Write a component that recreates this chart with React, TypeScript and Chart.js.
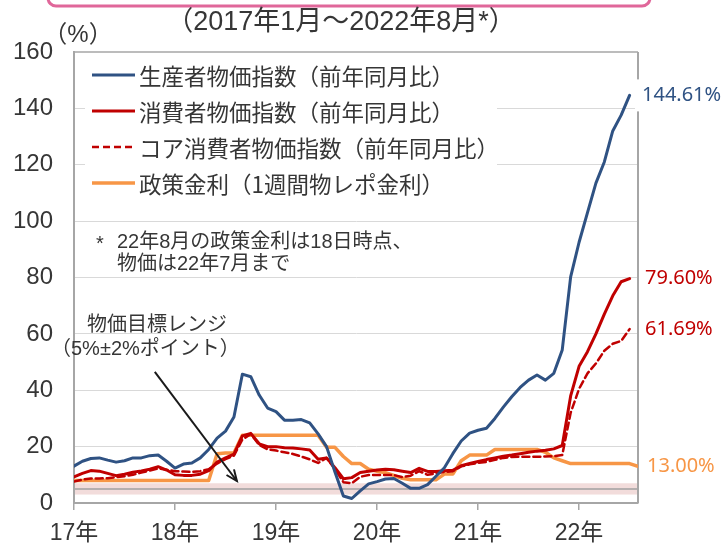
import React, { useEffect, useRef } from "react";
import { Chart, registerables } from "chart.js";
Chart.register(...registerables);

// ---- data (monthly, Jan 2017 = index 0) ----
const yearLabels = ["17年", "18年", "19年", "20年", "21年", "22年"];
const monthCount = 68; // Jan 2017 .. Aug 2022

const ppi = [
  13.1, 14.8, 15.8, 16.0, 15.2, 14.5, 15.0, 16.0, 16.0, 16.8, 17.0, 14.8,
  12.4, 13.8, 14.2, 16.0, 19.0, 23.0, 25.5, 30.5, 45.7, 44.8, 38.3, 33.7,
  32.4, 29.4, 29.4, 29.6, 28.4, 24.5, 20.0, 11.0, 2.5, 1.6, 4.3, 6.8,
  7.6, 8.5, 8.7, 7.0, 5.2, 5.2, 6.5, 9.5, 12.5, 17.5, 22.0, 24.8,
  25.8, 26.5, 30.0, 34.0, 37.7, 41.0, 43.6, 45.4, 43.6, 46.0, 54.3, 80.2,
  92.5, 103.0, 113.5, 121.0, 132.0, 137.6, 144.61,
];
const cpi = [
  9.3, 10.5, 11.5, 11.3, 10.5, 9.7, 10.2, 10.9, 11.4, 12.0, 12.9, 11.7,
  10.0, 9.8, 9.8, 10.2, 11.5, 14.5, 16.0, 17.3, 23.8, 24.7, 21.0, 20.0,
  20.0, 19.6, 19.5, 19.2, 18.8, 15.5, 16.0, 12.5, 8.6, 9.0, 10.8, 11.3,
  11.7, 12.0, 11.8, 11.3, 10.8, 12.3, 11.2, 11.2, 11.4, 11.6, 13.2, 14.0,
  14.7, 15.4, 16.0, 16.6, 17.0, 17.5, 18.0, 18.4, 18.7, 19.2, 20.4, 38.0,
  48.5, 53.7, 60.0, 67.0, 73.5, 78.5, 79.6,
];
const coreCpi = [
  7.6, 8.3, 8.7, 8.7, 8.8, 9.2, 9.5, 10.0, 10.8, 11.5, 12.3, 11.8,
  11.3, 11.2, 11.0, 11.3, 12.0, 14.0, 15.6, 16.8, 22.5, 24.5, 20.6, 19.0,
  18.6, 18.0, 17.4, 16.5, 15.5, 14.2, 16.0, 12.0, 7.4, 7.0, 9.3, 9.9,
  9.9, 9.9, 9.9, 9.2, 9.7, 11.3, 10.0, 10.5, 11.0, 11.3, 13.0, 13.7,
  14.2, 14.6, 15.3, 16.0, 16.3, 16.4, 16.4, 16.4, 16.5, 16.6, 17.0, 32.0,
  40.5, 46.0, 49.5, 54.0, 56.5, 57.5, 61.69,
];
const policyRate = [
  8, 8, 8, 8, 8, 8, 8, 8, 8, 8, 8, 8,
  8, 8, 8, 8, 8, 17.5, 17.75, 17.75, 24, 24, 24, 24,
  24, 24, 24, 24, 24, 24, 19.75, 19.75, 16.5, 14, 14, 12,
  11.25, 10.75, 9.75, 8.75, 8.25, 8.25, 8.25, 8.25, 10.25, 10.25, 15, 17,
  17, 17, 19, 19, 19, 19, 19, 19, 18, 16, 15, 14,
  14, 14, 14, 14, 14, 14, 14, 13,
];

const seriesNames = [
  "生産者物価指数（前年同月比）",
  "消費者物価指数（前年同月比）",
  "コア消費者物価指数（前年同月比）",
  "政策金利（1週間物レポ金利）",
];
const endLabels = ["144.61%", "79.60%", "61.69%", "13.00%"];
const targetLow = 3;
const targetMid = 5;
const targetHigh = 7;

const titleText = "（2017年1月～2022年8月*）";
const unitText = "（%）";
const noteLines = ["22年8月の政策金利は18日時点、", "物価は22年7月まで"];
const rangeLines = ["物価目標レンジ", "（5%±2%ポイント）"];

// ---- styles ----
const BLUE = "#2f5283";
const RED = "#c00000";
const ORANGE = "#f79646";
const TEXT = "#363636";
const AXIS = "#a6a6a6";
const CJK = '"Noto Sans CJK JP", sans-serif';
const NUM = '"Liberation Sans", "Noto Sans CJK JP", sans-serif';
const END = '"Noto Sans", "Liberation Sans", sans-serif';

const toPoints = (arr: number[]) => arr.map((v, i) => ({ x: i, y: v }));

const decor = {
  id: "decor",
  beforeDatasetsDraw(chart: any) {
    const { ctx, chartArea: a, scales } = chart;
    const y = scales.y;
    ctx.save();
    // target band
    const yt = y.getPixelForValue(targetHigh);
    const yb = y.getPixelForValue(targetLow);
    ctx.fillStyle = "#f2dcdb";
    ctx.fillRect(a.left + 1, yt, a.right - a.left - 1, yb - yt);
    ctx.strokeStyle = "#a0a0a0";
    ctx.lineWidth = 1.5;
    const ym = y.getPixelForValue(targetMid);
    ctx.beginPath();
    ctx.moveTo(a.left + 1, ym);
    ctx.lineTo(a.right, ym);
    ctx.stroke();
    // top & right frame
    ctx.strokeStyle = AXIS;
    ctx.lineWidth = 1.5;
    ctx.beginPath();
    ctx.moveTo(a.left, a.top);
    ctx.lineTo(a.right, a.top);
    ctx.stroke();
    ctx.lineWidth = 2;
    ctx.beginPath();
    ctx.moveTo(a.right, a.top);
    ctx.lineTo(a.right, a.bottom);
    ctx.stroke();
    // legend background
    ctx.fillStyle = "#ffffff";
    ctx.fillRect(85, a.top + 1, 412, 148);
    // white background behind first end label
    const ds0 = chart.data.datasets[0].data;
    const yl = y.getPixelForValue(ds0[ds0.length - 1].y);
    ctx.fillRect(a.right - 3, yl - 16, 100, 32);
    ctx.restore();
  },
  afterDraw(chart: any) {
    const { ctx, chartArea: a, scales } = chart;
    const x = scales.x;
    const y = scales.y;
    ctx.save();
    // pink header frame
    ctx.strokeStyle = "#e0679a";
    ctx.lineWidth = 3;
    ctx.beginPath();
    ctx.roundRect(48, -30, 602, 36, 8);
    ctx.stroke();

    ctx.fillStyle = TEXT;
    ctx.textBaseline = "middle";
    // title
    ctx.textAlign = "center";
    ctx.font = `27px ${NUM}`;
    ctx.fillText(titleText, 341, 23);
    ctx.font = `24px ${NUM}`;
    ctx.fillText(unitText, 78, 35);

    // legend
    const ds = chart.data.datasets;
    ctx.textAlign = "left";
    ctx.font = `22.5px ${CJK}`;
    ds.forEach((d: any, i: number) => {
      const ly = 75 + i * 36;
      ctx.save();
      ctx.strokeStyle = d.borderColor;
      ctx.lineWidth = d.borderWidth;
      ctx.setLineDash(d.borderDash || []);
      ctx.beginPath();
      ctx.moveTo(92, ly);
      ctx.lineTo(135, ly);
      ctx.stroke();
      ctx.restore();
      ctx.fillStyle = TEXT;
      ctx.fillText(d.label, 139, ly + 1);
    });

    // note
    ctx.font = `20px ${NUM}`;
    ctx.fillText("*", 96, 244);
    ctx.fillText(noteLines[0], 117, 242);
    ctx.fillText(noteLines[1], 117, 264);
    // range label
    ctx.font = `20px ${NUM}`;
    ctx.fillText(rangeLines[0], 87, 325);
    ctx.fillText(rangeLines[1], 51, 349);

    // arrow (in data coordinates)
    const sx = x.getPixelForValue(9.6), sy = y.getPixelForValue(46.5);
    const tx = x.getPixelForValue(19.35), ty = y.getPixelForValue(7.8);
    ctx.strokeStyle = "#1a1a1a";
    ctx.lineWidth = 2;
    ctx.beginPath();
    ctx.moveTo(sx, sy);
    ctx.lineTo(tx, ty);
    ctx.stroke();
    const ang = Math.atan2(ty - sy, tx - sx);
    const hl = 12;
    ctx.beginPath();
    ctx.moveTo(tx - hl * Math.cos(ang - 0.4), ty - hl * Math.sin(ang - 0.4));
    ctx.lineTo(tx, ty);
    ctx.lineTo(tx - hl * Math.cos(ang + 0.4), ty - hl * Math.sin(ang + 0.4));
    ctx.stroke();

    // end labels
    ctx.font = `20px ${END}`;
    ctx.textAlign = "left";
    const offs = [4, 7, 7, 9];
    ds.forEach((d: any, i: number) => {
      const last = d.data[d.data.length - 1];
      ctx.fillStyle = d.labelColor;
      ctx.fillText(endLabels[i], a.right + offs[i], y.getPixelForValue(last.y));
    });
    ctx.restore();
  },
};

export default function App() {
  const ref = useRef<HTMLCanvasElement>(null);
  useEffect(() => {
    document.body.style.margin = "0";
    document.body.style.overflow = "hidden";
    const chart = new Chart(ref.current!, {
      type: "line",
      data: {
        datasets: [
          { label: seriesNames[0], data: toPoints(ppi), borderColor: BLUE, borderWidth: 3, labelColor: BLUE } as any,
          { label: seriesNames[1], data: toPoints(cpi), borderColor: RED, borderWidth: 3, labelColor: RED } as any,
          { label: seriesNames[2], data: toPoints(coreCpi), borderColor: RED, borderWidth: 2.5, borderDash: [7, 4], labelColor: RED } as any,
          { label: seriesNames[3], data: toPoints(policyRate), borderColor: ORANGE, borderWidth: 3.5, labelColor: ORANGE } as any,
        ],
      },
      options: {
        responsive: false,
        animation: false,
        devicePixelRatio: 1,
        layout: { padding: { top: 52, right: 86, left: 0, bottom: 0 } },
        plugins: { legend: { display: false }, tooltip: { enabled: false } },
        elements: { point: { radius: 0 }, line: { tension: 0, borderCapStyle: "round", borderJoinStyle: "round" } },
        scales: {
          x: {
            type: "linear",
            min: 0,
            max: monthCount - 1,
            afterFit: (s: any) => { s.height = 45; },
            ticks: {
              stepSize: 12,
              includeBounds: false,
              autoSkip: false,
              maxRotation: 0,
              padding: 10,
              color: TEXT,
              font: { size: 23, family: NUM },
              callback: (v: any) => yearLabels[Math.round(Number(v) / 12)] ?? "",
            },
            grid: { drawOnChartArea: false, drawTicks: true, tickLength: 7, color: AXIS, lineWidth: 1.5 },
            border: { display: true, color: AXIS, width: 2 },
          },
          y: {
            min: 0,
            max: 160,
            afterFit: (s: any) => { s.width = 74; },
            ticks: { stepSize: 20, padding: 21, color: TEXT, font: { size: 24, family: NUM } },
            grid: {
              drawTicks: false,
              color: (c: any) => (c.tick && (c.tick.value === 0 || c.tick.value === 160) ? "rgba(0,0,0,0)" : "#d9d9d9"),
              lineWidth: 1,
            },
            border: { color: AXIS, width: 2 },
          },
        },
      } as any,
      plugins: [decor],
    });
    return () => chart.destroy();
  }, []);
  return (
    <div style={{ width: 724, height: 548, background: "#fff" }}>
      <canvas ref={ref} width={724} height={548} style={{ display: "block" }} />
    </div>
  );
}
